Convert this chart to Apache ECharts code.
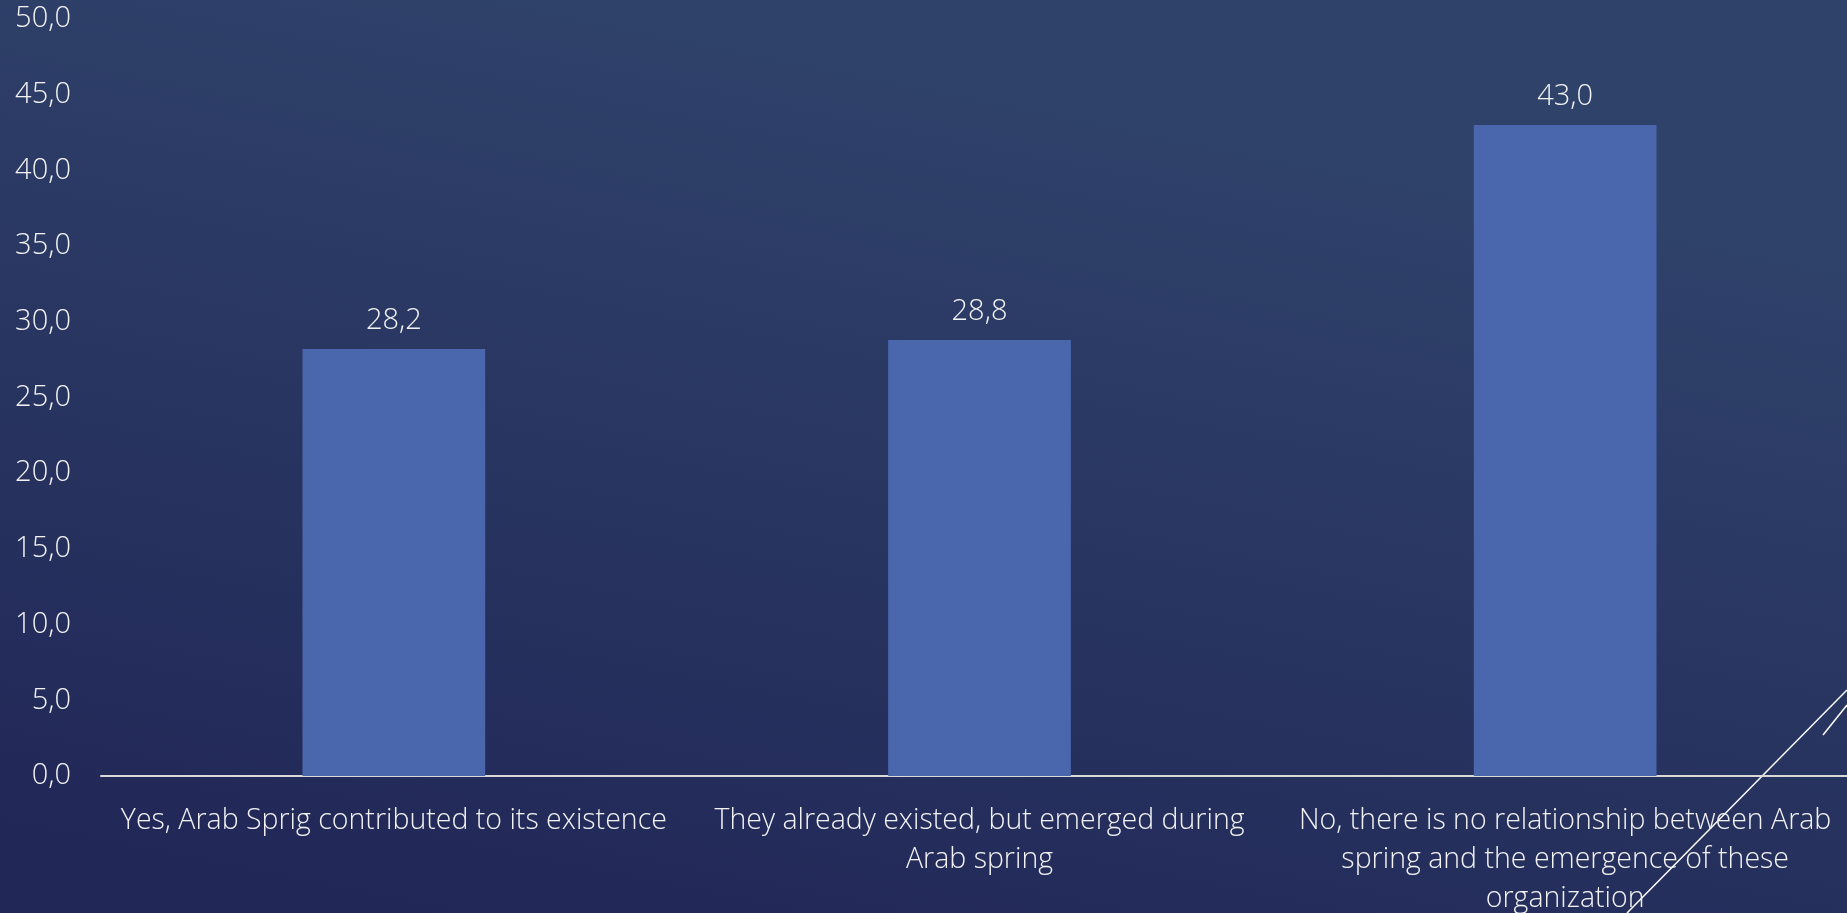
<!DOCTYPE html>
<html>
<head>
<meta charset="utf-8">
<script src="https://cdn.jsdelivr.net/npm/echarts@6/dist/echarts.min.js"></script>
<style>
html,body{margin:0;padding:0;width:100%;height:100%;overflow:hidden;}
#chart{width:1847px;height:913px;}
</style>
</head>
<body>
<div id="chart"></div>
<script>
const categories = [
  "Yes, Arab Sprig contributed to its existence",
  "They already existed, but emerged during\nArab spring",
  "No, there is no relationship between Arab\nspring and the emergence of these\norganization"
];
const values = [28.2, 28.8, 43.0];
const yMin = 0, yMax = 50, yInterval = 5;

const chart = echarts.init(document.getElementById('chart'));
const fontFamily = "'Open Sans', 'Noto Sans', sans-serif";
const textColor = '#F2F2F2';
chart.setOption({
  backgroundColor: {
    type: 'linear', x: 0.3, y: 0, x2: 0.2, y2: 1,
    colorStops: [{offset: 0, color: '#2F426A'}, {offset: 1, color: '#212757'}]
  },
  animation: false,
  grid: {left: 101, width: 1757, top: 19, bottom: 137, containLabel: false, outerBoundsMode: 'none'},
  xAxis: {
    type: 'category',
    data: categories,
    axisLine: {show: true, lineStyle: {color: '#D9D9D9', width: 2}},
    axisTick: {show: false},
    axisLabel: {color: textColor, fontFamily: fontFamily, fontWeight: 300, fontSize: 28.5, lineHeight: 39, margin: 25, interval: 0, hideOverlap: false}
  },
  yAxis: {
    type: 'value', min: yMin, max: yMax, interval: yInterval,
    splitLine: {show: false},
    axisLine: {show: false}, axisTick: {show: false},
    axisLabel: {color: textColor, fontFamily: fontFamily, fontWeight: 300, fontSize: 29, margin: 30,
      formatter: v => v.toFixed(1).replace('.', ',')}
  },
  series: [{
    type: 'bar',
    data: values,
    barWidth: '31.2%',
    itemStyle: {color: '#4A66AD'},
    label: {show: true, position: 'top', distance: 14, color: textColor, fontFamily: fontFamily, fontWeight: 300, fontSize: 29,
      formatter: p => p.value.toFixed(1).replace('.', ',')}
  }],
  graphic: [
    {type: 'line', shape: {x1: 1847, y1: 690, x2: 1627, y2: 913}, style: {stroke: '#FFFFFF', lineWidth: 1.5}},
    {type: 'line', shape: {x1: 1847, y1: 705, x2: 1823, y2: 735}, style: {stroke: '#FFFFFF', lineWidth: 1.5}}
  ]
});
</script>
</body>
</html>
